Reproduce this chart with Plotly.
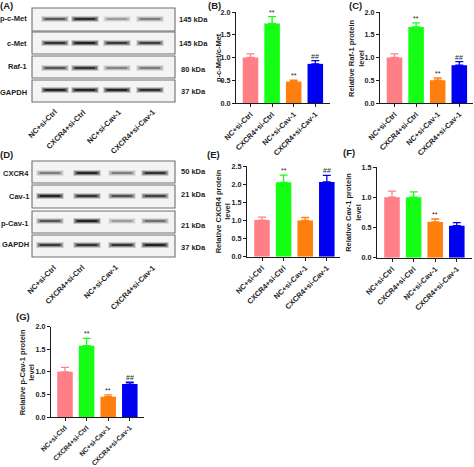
import plotly.graph_objects as go

W, H = 474, 467
categories = ["NC+si-Ctrl", "CXCR4+si-Ctrl", "NC+si-Cav-1", "CXCR4+si-Cav-1"]
colors = ["#FF7F86", "#14FF14", "#FF7F0E", "#0000F0"]

pcmet_vals = [1.0, 1.75, 0.47, 0.86]
pcmet_errs = [0.08, 0.15, 0.03, 0.07]
pcmet_marks = ["", "**", "**", "##"]
raf_vals = [1.0, 1.67, 0.50, 0.83]
raf_errs = [0.08, 0.09, 0.05, 0.08]
raf_marks = ["", "**", "**", "##"]
cxcr4_vals = [1.01, 2.05, 1.0, 2.06]
cxcr4_errs = [0.08, 0.20, 0.08, 0.18]
cxcr4_marks = ["", "**", "", "##"]
cav_vals = [1.0, 1.0, 0.59, 0.53]
cav_errs = [0.10, 0.09, 0.05, 0.05]
cav_marks = ["", "", "**", ""]
pcav_vals = [1.0, 1.58, 0.45, 0.73]
pcav_errs = [0.10, 0.16, 0.04, 0.04]
pcav_marks = ["", "**", "**", "##"]

# Band strength read by eye from the blots (0 = none, 1 = darkest)
blot_a_names = ["p-c-Met", "c-Met", "Raf-1", "GAPDH"]
blot_a_kda = ["145 kDa", "145 kDa", "80 kDa", "37 kDa"]
blot_a_bands = [[0.6, 0.9, 0.28, 0.42], [0.85, 1.0, 0.8, 0.75], [0.62, 0.85, 0.38, 0.42], [1.0, 1.0, 1.0, 0.9]]
blot_d_names = ["CXCR4", "Cav-1", "p-Cav-1", "GAPDH"]
blot_d_kda = ["50 kDa", "21 kDa", "21 kDa", "37 kDa"]
blot_d_bands = [[0.4, 0.95, 0.4, 0.85], [1.0, 0.85, 0.65, 0.75], [0.62, 1.0, 0.28, 0.48], [0.8, 0.85, 0.85, 1.0]]

FONT = "Liberation Sans"
INK = "#1c1c1c"
TXT = 7.5
fig = go.Figure()
shapes, notes = [], []


def px(x):
    return x / W


def py(y):
    return 1 - y / H


def label(x, y, text, size=TXT, xanchor="center", yanchor="middle", angle=0):
    notes.append(dict(xref="paper", yref="paper", x=px(x), y=py(y), text=f"<b>{text}</b>",
                      showarrow=False, xanchor=xanchor, yanchor=yanchor, textangle=angle,
                      font=dict(family=FONT, size=size, color=INK),
                      borderpad=0, borderwidth=0))


def bar_panel(n, vals, errs, marks, ymax, title, title_x, left, right, top, bottom, c0, step, tick_size=7.4):
    xa, ya = f"x{n}", f"y{n}"
    fig.add_trace(go.Bar(x=categories, y=vals, width=0.72, xaxis=xa, yaxis=ya,
                         marker=dict(color=colors, line=dict(width=0)), showlegend=False))
    for c, v, e, col in zip(categories, vals, errs, colors):
        fig.add_trace(go.Scatter(x=[c], y=[v], mode="markers", xaxis=xa, yaxis=ya, showlegend=False,
                                 marker=dict(size=1, color=col, opacity=0),
                                 error_y=dict(type="data", array=[e], arrayminus=[0], color=col,
                                              thickness=1.3, width=4)))
    for c, v, e, m in zip(categories, vals, errs, marks):
        if m:
            notes.append(dict(xref=xa, yref=ya, x=c, y=v + e, text=m, showarrow=False, yanchor="bottom",
                              yshift=-1, font=dict(family=FONT, size=7, color=INK)))
    fig.layout[f"xaxis{n}"] = dict(
        domain=[px(left), px(right)], anchor=ya, type="category", categoryorder="array", categoryarray=categories,
        range=[-(c0 - left) / step, (right - c0) / step], showgrid=False, zeroline=False, automargin=False,
        showline=True, linecolor=INK, linewidth=1.3, ticks="outside", ticklen=3, tickwidth=1.2, tickcolor=INK,
        tickangle=-45, tickfont=dict(family=FONT, size=tick_size, color=INK, weight="bold"))
    fig.layout[f"yaxis{n}"] = dict(
        domain=[py(bottom), py(top)], anchor=xa, range=[0, ymax], dtick=0.5, tickformat=".1f", showgrid=False,
        zeroline=False, showline=True, linecolor=INK, linewidth=1.3, ticks="outside", ticklen=3, tickwidth=1.2,
        automargin=False, tickcolor=INK, tickfont=dict(family=FONT, size=7.2, color=INK, weight="bold"))
    label(title_x, (top + bottom) / 2 + 0.5, title, angle=-90)


def blot(x0, x1, tops, bottoms, band_x, band_y, bands, names, name_y, name_x, kda, kda_y):
    for t, b, row, yy, nm, ny, kd, ky in zip(tops, bottoms, bands, band_y, names, name_y, kda, kda_y):
        shapes.append(dict(type="rect", xref="paper", yref="paper", x0=px(x0), x1=px(x1), y0=py(t), y1=py(b),
                           fillcolor="#f4f4f4", line=dict(color="#6e6e6e", width=1.1), layer="above"))
        for bx, d in zip(band_x, row):
            for hw, th, op in [(14, 6.0, 0.14), (13, 4.5, 0.25), (12, 3.0, 0.4), (10, 2.0, 0.6)]:
                shapes.append(dict(type="line", xref="paper", yref="paper", x0=px(bx - hw), x1=px(bx + hw),
                                   y0=py(yy), y1=py(yy), layer="above", opacity=op * d,
                                   line=dict(color="#000000", width=th)))
        label(name_x, ny, nm, xanchor="right")
        label(193, ky, kd)


blot(32, 175, [8, 32, 56, 80], [31, 54, 78, 102], [55, 85, 117, 150], [19, 43, 68, 90], blot_a_bands,
     blot_a_names, [19, 43, 67, 93], 27, blot_a_kda, [20, 43, 69, 91])
blot(32, 175, [161, 185, 211, 235], [183, 208, 233, 257], [50, 87, 122, 155], [173, 196, 221, 245], blot_d_bands,
     blot_d_names, [173, 196, 223, 245], 29, blot_d_kda, [171, 194, 225, 247])

for c, right, top in zip(categories, [59, 87, 123, 157], [107, 108, 108, 107]):
    label(right, top, c, xanchor="right", yanchor="top", angle=-45)
for c, right in zip(categories, [58, 86, 120, 157]):
    label(right, 263, c, xanchor="right", yanchor="top", angle=-45)

bar_panel(1, pcmet_vals, pcmet_errs, pcmet_marks, 2.0, "p-c-Met/c-Met", 218, 236, 330, 12, 103, 250.5, 21.6)
bar_panel(2, raf_vals, raf_errs, raf_marks, 2.0, "Relative Raf-1 protein<br>level", 356, 380, 473, 12, 103, 394.5, 21.6)
bar_panel(3, cxcr4_vals, cxcr4_errs, cxcr4_marks, 2.5, "Relative CXCR4 protein<br>level", 223.5, 247, 340, 166, 256.7, 262, 21.6)
bar_panel(4, cav_vals, cav_errs, cav_marks, 1.5, "Relative Cav-1 protein<br>level", 354, 377, 472, 167, 257.7, 392, 21.6)
bar_panel(5, pcav_vals, pcav_errs, pcav_marks, 2.0, "Relative p-Cav-1 protein<br>level", 27, 51, 144, 326.7, 417, 65, 21.6, tick_size=6.8)

for x, y, t in [(6, 6, "(A)"), (214, 5.5, "(B)"), (355, 6, "(C)"), (6, 154, "(D)"), (213, 154, "(E)"), (349, 152, "(F)"), (23, 316, "(G)")]:
    label(x, y, t, size=9.5)

fig.update_layout(width=W, height=H, margin=dict(l=0, r=0, t=0, b=0, pad=0), paper_bgcolor="white", plot_bgcolor="white",
                  autosize=False, showlegend=False, bargap=0.28, shapes=shapes, annotations=notes,
                  font=dict(family=FONT, color=INK))
fig.write_html("out.html", config=dict(displayModeBar=False),
               post_script="document.body.style.margin='0';")
